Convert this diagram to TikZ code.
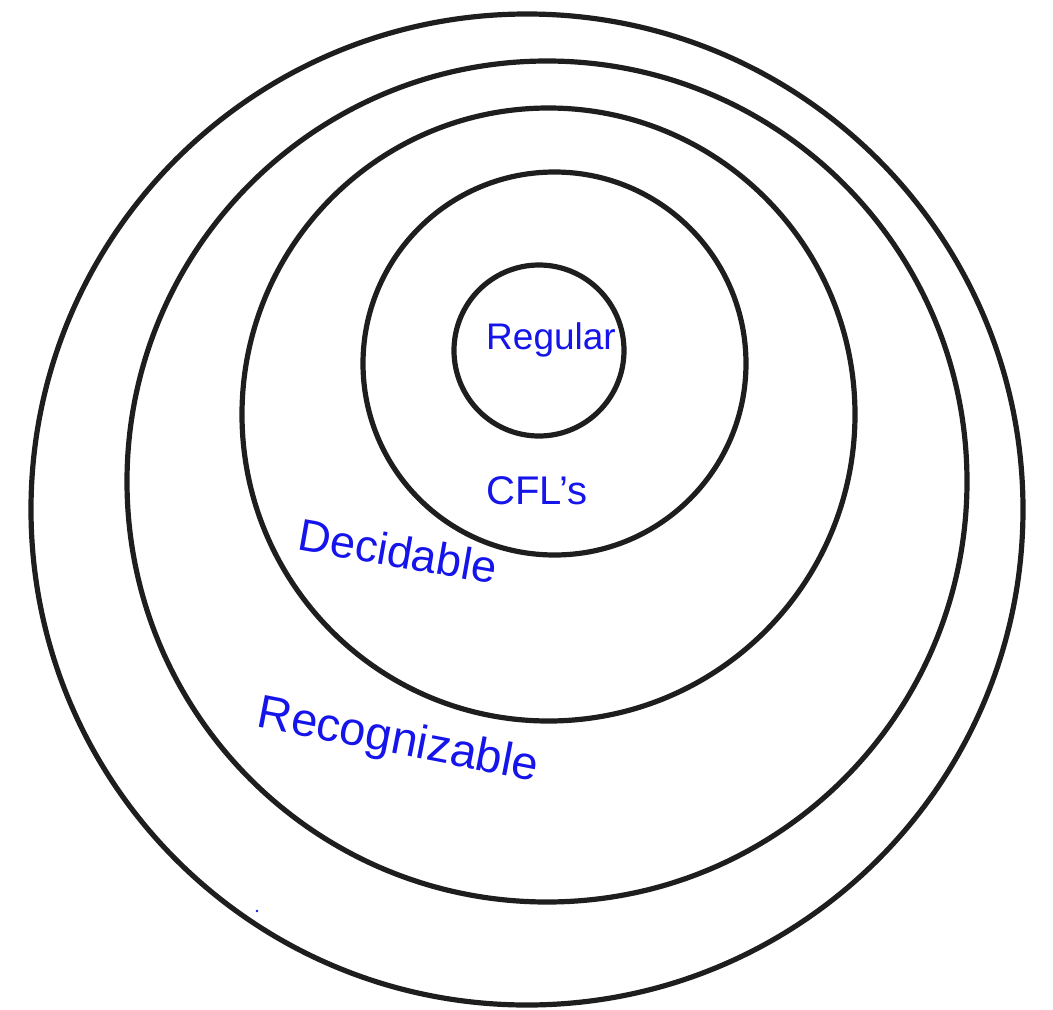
\documentclass[tikz,border=0pt]{standalone}
\usepackage{fontspec}
\setmainfont{Liberation Sans}
\usetikzlibrary{shapes.geometric}
\definecolor{ringcol}{RGB}{30,30,30}
\definecolor{handblue}{RGB}{20,20,235}
\begin{document}
\begin{tikzpicture}[x=1pt,y=-1pt,
  ring/.style={draw=ringcol, line width=5.2pt, ellipse, inner sep=0pt},
  lbl/.style={text=handblue, inner sep=0pt, font=\fontsize{#1}{#1}\selectfont},
  lbl/.default=36]
\useasboundingbox (0,0) rectangle (1053,1010);
\node[ring, minimum width=992, minimum height=991] (recog) at (527,509.5) {};
\node[ring, minimum width=840, minimum height=841] (dec) at (547,481.5) {};
\node[ring, minimum width=613, minimum height=613] (decin) at (548.5,414.5) {};
\node[ring, minimum width=383, minimum height=383] (cfl) at (554.5,363.5) {};
\node[ring, minimum width=170, minimum height=171] (reg) at (539,350.5) {};
\node[lbl=37] (tReg) at (551,340) {Regular};
\node[lbl=40] (tCFL) at (537,491) {CFL's};
\node[lbl=45, rotate=-10] (tDec) at (398,551) {Decidable};
\node[lbl=47, rotate=-11] (tRec) at (398,742) {Recognizable};
\fill[handblue] (257,911) circle (1.3) coordinate (dot);
\end{tikzpicture}
\end{document}
